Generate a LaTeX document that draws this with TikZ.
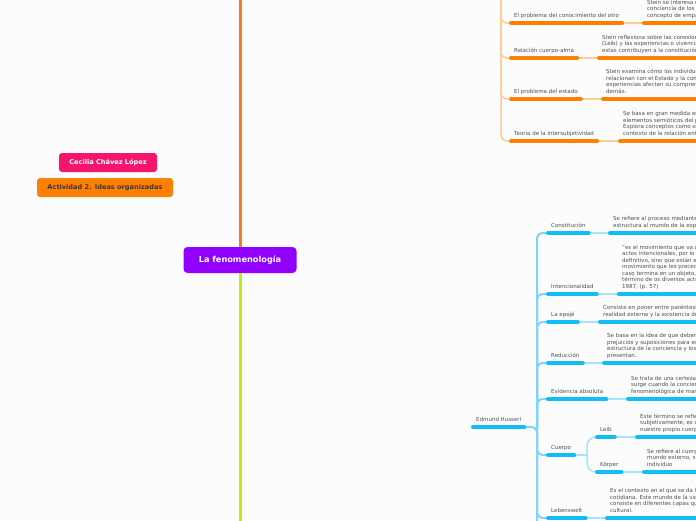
\documentclass[tikz,border=0pt]{standalone}
\usepackage{fontspec}
\setmainfont{DejaVu Sans}
\definecolor{bgc}{HTML}{FCFCFC}
\definecolor{txtc}{HTML}{505050}
\definecolor{corange}{HTML}{FF7A1A}
\definecolor{cgreen}{HTML}{B8F20C}
\definecolor{cpurple}{HTML}{9100FF}
\definecolor{cpink}{HTML}{F5146E}
\definecolor{cact}{HTML}{FF8000}
\definecolor{obarc}{HTML}{FF8000}
\definecolor{olight}{HTML}{FFCB98}
\definecolor{bbarc}{HTML}{10BEF5}
\definecolor{blight}{HTML}{A6E3FA}
\definecolor{bstemc}{HTML}{80D4F8}
\begin{document}
\begin{tikzpicture}[x=1pt,y=-1pt,
  ttl/.style={anchor=south west, inner xsep=3pt, inner ysep=3.5pt, align=left,
    font=\fontsize{5.5}{6.5}\selectfont, text=txtc, execute at end node=\strut},
  obar/.style={draw=obarc, line width=4pt, line cap=round},
  bbar/.style={draw=bbarc, line width=4pt, line cap=round},
  oconn/.style={draw=olight, line width=1.5pt},
  ostem/.style={draw=olight, line width=1.5pt, rounded corners=6pt},
  bconn/.style={draw=blight, line width=1.5pt},
  bstem/.style={draw=bstemc, line width=2pt, rounded corners=6pt},
  fork/.style={draw=blight, line width=1.5pt, rounded corners=9pt},
  root/.style={fill=cpurple, rounded corners=4pt, minimum width=113pt, minimum height=26pt,
    inner sep=0pt, text=white, font=\bfseries\fontsize{8.2}{10}\selectfont},
  tag/.style={rounded corners=3pt, minimum height=19pt, inner sep=0pt,
    font=\bfseries\fontsize{6.6}{8}\selectfont}
]
\fill[bgc] (0,0) rectangle (696,520);
\useasboundingbox (0,0) rectangle (696,520);
\clip (0,0) rectangle (696,520);

% central
\node[root] (root) at (240,260) {La fenomenología};
\coordinate (ctop) at (240,-6);
\coordinate (cbot) at (240,526);
\draw[corange, line width=3pt] (root.north) -- (ctop);
\draw[cgreen, line width=3pt] (root.south) -- (cbot);

\node[tag, fill=cpink, text=white, minimum width=98pt] (autor) at (108,162.5) {Cecilia Chávez López};
\node[tag, fill=cact, text={black!78}, minimum width=136pt] (act) at (105,187.5) {Actividad 2. Ideas organizadas};

% ---------- orange branch ----------
\coordinate (ostemtop) at (501,-6);
\node[ttl] (o1) at (511,23) {El problema del conocimiento del otro};
\node[ttl] (o1d) at (644,23) {Stein se interesa en\\conciencia de los otros\\concepto de empatía};
\node[ttl] (o2) at (511,58) {Relación cuerpo-alma};
\node[ttl] (o2d) at (599,58) {Stein reflexiona sobre las conexiones\\(Leib) y las experiencias o vivencias\\estas contribuyen a la constitución};
\node[ttl] (o3) at (511,99) {El problema del estado};
\node[ttl] (o3d) at (603,99) {Stein examina cómo los individuos\\relacionan con el Estado y la comunidad\\experiencias afectan su comprensión\\demás.};
\node[ttl] (o4) at (511,141) {Teoría de la intersubjetividad};
\node[ttl] (o4d) at (620,141) {Se basa en gran medida en\\elementos semióticos del pensamiento\\Explora conceptos como signo\\contexto de la relación entre};

\foreach \n in {o1,o2,o3,o4}{
  \draw[ostem] (ostemtop) |- (\n.south west);
  \draw[oconn] (\n.south east) -- (\n d.south west);
  \draw[obar] (\n.south west) -- (\n.south east);
  \draw[obar] (\n d.south west) -- ++(140pt,0);
}

% ---------- blue branch ----------
\node[ttl] (hus) at (473,427) {Edmund Husserl};
\coordinate (hj) at (537,427);
\coordinate (bbot) at (537,530);
\draw[bstem] (hus.south east) -- (hj) -- (bbot);

\node[ttl] (b1) at (548,233) {Constitución};
\node[ttl] (b1d) at (610,233) {Se refiere al proceso mediante\\estructura al mundo de la experiencia};
\node[ttl] (b2) at (548,294) {Intencionalidad};
\node[ttl] (b2d) at (619,294) {"es el movimiento que va de\\actos intencionales, por lo que\\definitivo, sino que están en\\movimiento que les precede\\caso termina en un objeto, que\\término de os diversos actos\\1987, (p. 57)};
\node[ttl] (b3) at (548,322) {La epojé};
\node[ttl] (b3d) at (600,322) {Consiste en poner entre paréntesis\\realidad externa y la existencia de};
\node[ttl] (b4) at (548,363) {Reducción};
\node[ttl] (b4d) at (604,363) {Se basa en la idea de que debemos\\prejuicios y suposiciones para estudiar\\estructura de la conciencia y los\\presentan.};
\node[ttl] (b5) at (548,399) {Evidencia absoluta};
\node[ttl] (b5d) at (628,399) {Se trata de una certeza que\\surge cuando la conciencia\\fenomenológica de manera};
\node[ttl] (b6) at (548,455) {Cuerpo};
\node[ttl] (b7) at (548,518) {Lebenswelt};
\node[ttl] (b7d) at (607,518) {Es el contexto en el que se da la\\cotidiana. Este mundo de la vida\\consiste en diferentes capas que\\cultural.};

\node[ttl] (leib) at (597,437) {Leib};
\node[ttl] (leibd) at (637,437) {Este término se refiere\\subjetivamente, es decir\\nuestro propio cuerpo};
\node[ttl] (korp) at (597,472) {Körper};
\node[ttl] (korpd) at (644,472) {Se refiere al cuerpo\\mundo externo, sin\\individuo};

\foreach \n in {b1,b2,b3,b4,b5,b6,b7}{
  \draw[bstem] (hj) |- (\n.south west);
}
\foreach \n in {b1,b2,b3,b4,b5,b7,leib,korp}{
  \draw[bconn] (\n.south east) -- (\n d.south west);
  \draw[bbar] (\n d.south west) -- ++(140pt,0);
}
\coordinate (cf) at (587,455);
\draw[bconn] (b6.south east) -- (cf);
\draw[fork] (cf) |- (leib.south west);
\draw[fork] (cf) |- (korp.south west);
\foreach \n in {hus,b1,b2,b3,b4,b5,b6,b7,leib,korp}{
  \draw[bbar] (\n.south west) -- (\n.south east);
}
\end{tikzpicture}
\end{document}
